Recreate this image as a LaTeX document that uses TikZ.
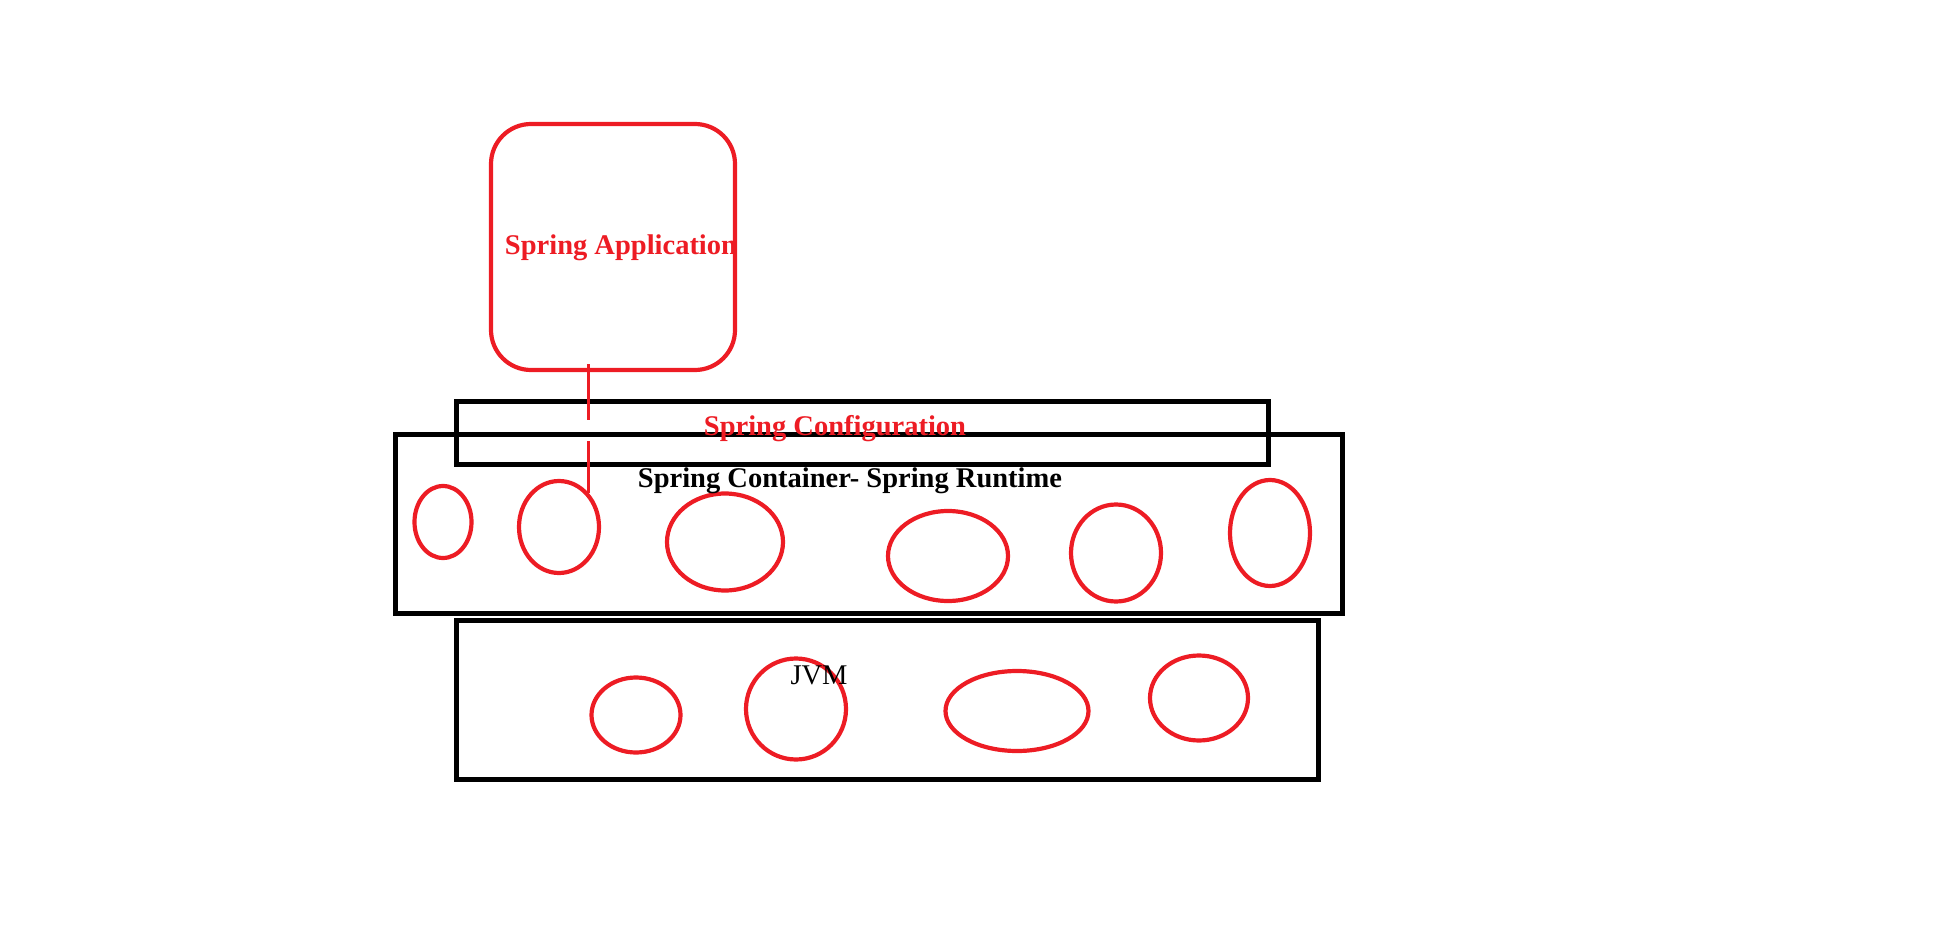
\documentclass[tikz,border=0pt]{standalone}
\usepackage{fontspec}
\setmainfont{Liberation Serif}
\usetikzlibrary{shapes.geometric}
\definecolor{paintred}{RGB}{237,28,36}

\tikzset{
  layer/.style={draw=black, line width=5pt, rectangle, inner sep=0pt},
  bean/.style={draw=paintred, line width=4.2pt, ellipse, inner sep=0pt},
  label/.style={font=\fontsize{28.5}{30}\selectfont\bfseries, inner sep=0pt},
  link/.style={draw=paintred, line width=3pt}
}

\begin{document}
\begin{tikzpicture}[x=1pt, y=-1pt]
\useasboundingbox (0,0) rectangle (1949,952);
\node[draw=paintred, line width=4.2pt, rounded corners=40pt, minimum width=244pt, minimum height=246pt] (app) at (613,247) {};
\node[layer, minimum width=947pt, minimum height=179pt] (container) at (868.5,523.5) {};
\node[layer, minimum width=812pt, minimum height=63pt] (config) at (862,432.5) {};
\node[layer, minimum width=862pt, minimum height=159pt] (jvm) at (887,699.5) {};
% beans in the container
\node[bean, minimum width=57pt, minimum height=72pt] (bean1) at (443,522) {};
\node[bean, minimum width=80pt, minimum height=92pt] (bean2) at (559,527) {};
\node[bean, minimum width=116pt, minimum height=97pt] (bean3) at (725,542) {};
\node[bean, minimum width=120pt, minimum height=90pt] (bean4) at (948,556) {};
\node[bean, minimum width=90pt, minimum height=97pt] (bean5) at (1116,553) {};
\node[bean, minimum width=80pt, minimum height=106pt] (bean6) at (1270,533) {};
% objects in the jvm
\node[bean, minimum width=89pt, minimum height=75pt] (obj1) at (636,715) {};
\node[bean, minimum width=100pt, minimum height=101pt] (obj2) at (796,709) {};
\node[bean, minimum width=143pt, minimum height=80pt] (obj3) at (1017,711) {};
\node[bean, minimum width=98pt, minimum height=85pt] (obj4) at (1199,698) {};
% texts
\node[label, text=paintred] (applbl) at (621,248) {Spring Application};
\node[label, text=paintred] (configlbl) at (835,429) {Spring Configuration};
\node[label] (containerlbl) at (850,481) {Spring Container- Spring Runtime};
\node[label, font=\fontsize{28.5}{30}\selectfont] (jvmlbl) at (819,675) {JVM};
\draw[link, dash pattern=on 56pt off 21pt on 80pt] ([yshift=8pt]app.south -| bean2.north east) -- (bean2.north east);
\end{tikzpicture}
\end{document}
